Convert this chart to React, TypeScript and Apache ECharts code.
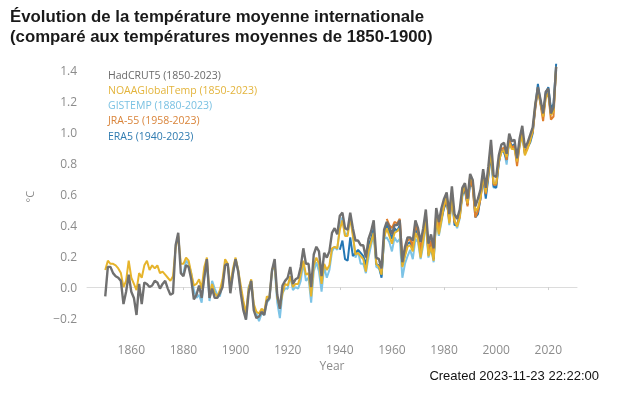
import React, { useEffect, useRef } from "react";
import * as echarts from "echarts";

// Series start years
const HADCRUT5_START = 1850;
const NOAA_START = 1850;
const GISTEMP_START = 1880;
const JRA55_START = 1958;
const ERA5_START = 1940;

// Tick labels
const xTicks = [1860, 1880, 1900, 1920, 1940, 1960, 1980, 2000, 2020];
const yTicks = [-0.2, 0, 0.2, 0.4, 0.6, 0.8, 1.0, 1.2, 1.4];

// Annual anomalies (°C vs 1850-1900)
const hadcrut5 = [
  -0.06, 0.13, 0.13, 0.09, 0.07, 0.06, 0.04, -0.11, -0.03, 0.08,
  -0.03, -0.07, -0.18, 0.02, -0.11, 0.03, 0.02, 0.0, 0.01, 0.04,
  0.03, -0.01, 0.02, 0.04, -0.01, -0.05, -0.04, 0.27, 0.35, 0.09,
  0.07, 0.14, 0.13, 0.05, -0.08, -0.05, 0.01, -0.07, 0.06, 0.18,
  -0.07, -0.01, -0.07, -0.07, -0.04, 0.0, 0.14, 0.15, -0.04, 0.09,
  0.18, 0.1, -0.04, -0.15, -0.21, -0.04, 0.04, -0.15, -0.2, -0.19,
  -0.16, -0.18, -0.09, -0.07, 0.11, 0.18, -0.05, -0.14, 0.01, 0.04,
  0.06, 0.13, 0.02, 0.05, 0.06, 0.13, 0.25, 0.15, 0.15, 0.0,
  0.21, 0.26, 0.23, 0.07, 0.22, 0.19, 0.23, 0.35, 0.38, 0.34,
  0.46, 0.48, 0.38, 0.37, 0.48, 0.38, 0.3, 0.3, 0.27, 0.27,
  0.19, 0.31, 0.36, 0.43, 0.19, 0.18, 0.12, 0.37, 0.42, 0.39,
  0.34, 0.4, 0.4, 0.43, 0.16, 0.26, 0.32, 0.32, 0.3, 0.43,
  0.38, 0.29, 0.38, 0.5, 0.28, 0.34, 0.25, 0.51, 0.42, 0.51,
  0.57, 0.61, 0.47, 0.65, 0.47, 0.44, 0.5, 0.64, 0.67, 0.57,
  0.73, 0.69, 0.52, 0.57, 0.63, 0.76, 0.64, 0.78, 0.95, 0.72,
  0.71, 0.85, 0.92, 0.93, 0.86, 0.99, 0.94, 0.95, 0.83, 0.96,
  1.04, 0.9, 0.93, 0.98, 1.03, 1.18, 1.29, 1.21, 1.12, 1.26,
  1.28, 1.12, 1.16, 1.42,
];

const noaa = [
  0.11, 0.17, 0.15, 0.15, 0.14, 0.12, 0.09, 0.0, 0.04, 0.17,
  0.06, 0.02, -0.02, 0.09, 0.06, 0.14, 0.17, 0.11, 0.14, 0.12,
  0.14, 0.09, 0.1, 0.08, 0.06, 0.04, 0.07, 0.25, 0.33, 0.15,
  0.15, 0.19, 0.17, 0.09, 0.01, 0.02, 0.05, -0.01, 0.13, 0.19,
  -0.05, 0.02, -0.04, -0.06, -0.02, 0.05, 0.18, 0.15, 0.01, 0.12,
  0.19, 0.11, 0.01, -0.09, -0.17, -0.01, 0.05, -0.11, -0.16, -0.17,
  -0.14, -0.16, -0.06, -0.07, 0.11, 0.15, -0.07, -0.13, -0.04, 0.02,
  0.01, 0.07, 0.0, 0.02, 0.02, 0.08, 0.17, 0.08, 0.09, -0.06,
  0.14, 0.19, 0.15, 0.02, 0.15, 0.11, 0.14, 0.25, 0.26, 0.25,
  0.37, 0.43, 0.33, 0.33, 0.45, 0.33, 0.21, 0.22, 0.2, 0.18,
  0.1, 0.23, 0.29, 0.35, 0.15, 0.13, 0.08, 0.32, 0.38, 0.33,
  0.28, 0.35, 0.36, 0.38, 0.13, 0.2, 0.26, 0.27, 0.23, 0.35,
  0.31, 0.19, 0.3, 0.43, 0.2, 0.26, 0.17, 0.45, 0.34, 0.43,
  0.53, 0.59, 0.41, 0.58, 0.43, 0.39, 0.45, 0.6, 0.67, 0.54,
  0.72, 0.68, 0.49, 0.51, 0.58, 0.72, 0.61, 0.74, 0.88, 0.67,
  0.67, 0.81, 0.87, 0.88, 0.84, 0.93, 0.89, 0.89, 0.81, 0.92,
  0.98, 0.85, 0.89, 0.94, 1.01, 1.18, 1.27, 1.19, 1.1, 1.22,
  1.25, 1.11, 1.13, 1.42,
];

const gistemp = [
  0.09, 0.17, 0.15, 0.09, -0.02, -0.07, -0.05, -0.1, 0.08, 0.15,
  -0.09, 0.04, -0.01, -0.05, -0.06, 0.03, 0.15, 0.15, -0.01, 0.08,
  0.18, 0.11, -0.02, -0.11, -0.21, 0.0, 0.04, -0.13, -0.17, -0.22,
  -0.17, -0.18, -0.1, -0.08, 0.11, 0.12, -0.1, -0.2, -0.04, -0.01,
  -0.01, 0.07, -0.02, 0.0, -0.01, 0.04, 0.16, 0.04, 0.06, -0.1,
  0.1, 0.16, 0.1, -0.03, 0.13, 0.06, 0.11, 0.23, 0.26, 0.24,
  0.39, 0.45, 0.33, 0.35, 0.46, 0.35, 0.19, 0.23, 0.15, 0.15,
  0.09, 0.19, 0.27, 0.34, 0.13, 0.12, 0.07, 0.31, 0.32, 0.29,
  0.23, 0.32, 0.29, 0.31, 0.06, 0.15, 0.2, 0.24, 0.18, 0.31,
  0.29, 0.18, 0.27, 0.42, 0.19, 0.25, 0.16, 0.44, 0.33, 0.42,
  0.52, 0.58, 0.4, 0.57, 0.42, 0.38, 0.44, 0.58, 0.65, 0.53,
  0.71, 0.66, 0.48, 0.49, 0.57, 0.71, 0.59, 0.72, 0.87, 0.64,
  0.65, 0.8, 0.89, 0.88, 0.79, 0.94, 0.9, 0.92, 0.8, 0.91,
  0.98, 0.87, 0.91, 0.94, 1.01, 1.16, 1.27, 1.18, 1.11, 1.24,
  1.27, 1.11, 1.15, 1.4,
];

const jra55 = [
  0.44, 0.4,
  0.38, 0.42, 0.41, 0.44, 0.19, 0.24, 0.3, 0.31, 0.26, 0.4,
  0.36, 0.24, 0.34, 0.48, 0.23, 0.3, 0.2, 0.48, 0.38, 0.46,
  0.52, 0.57, 0.42, 0.6, 0.42, 0.4, 0.45, 0.61, 0.64, 0.52,
  0.7, 0.64, 0.45, 0.49, 0.57, 0.72, 0.6, 0.73, 0.92, 0.66,
  0.66, 0.81, 0.89, 0.9, 0.82, 0.95, 0.9, 0.91, 0.78, 0.92,
  1.01, 0.86, 0.9, 0.95, 1.0, 1.15, 1.28, 1.18, 1.07, 1.23,
  1.25, 1.08, 1.1, 1.42,
];

const era5 = [
  0.24, 0.3, 0.18, 0.17, 0.32, 0.2, 0.22, 0.24, 0.22, 0.2,
  0.14, 0.27, 0.31, 0.38, 0.15, 0.14, 0.06, 0.32, 0.4, 0.36,
  0.31, 0.38, 0.36, 0.4, 0.14, 0.21, 0.28, 0.29, 0.24, 0.38,
  0.34, 0.22, 0.33, 0.46, 0.21, 0.27, 0.18, 0.46, 0.37, 0.44,
  0.51, 0.55, 0.44, 0.59, 0.4, 0.4, 0.47, 0.6, 0.62, 0.53,
  0.66, 0.65, 0.45, 0.47, 0.58, 0.71, 0.57, 0.71, 0.86, 0.65,
  0.64, 0.8, 0.88, 0.87, 0.82, 0.95, 0.91, 0.92, 0.82, 0.93,
  1.0, 0.86, 0.9, 0.93, 0.99, 1.16, 1.31, 1.19, 1.1, 1.25,
  1.29, 1.15, 1.18, 1.44,
];

const NAMES = {
  had: "HadCRUT5 (1850-2023)",
  noaa: "NOAAGlobalTemp (1850-2023)",
  gis: "GISTEMP (1880-2023)",
  jra: "JRA-55 (1958-2023)",
  era: "ERA5 (1940-2023)",
};

const COLORS = {
  had: "#707070",
  noaa: "#e6b42c",
  gis: "#7cc3e6",
  jra: "#e07f2c",
  era: "#2477b4",
};

const pairs = (start: number, vals: number[]) => vals.map((v, i) => [start + i, v]);

export default function App() {
  const ref = useRef<HTMLDivElement>(null);
  useEffect(() => {
    const chart = echarts.init(ref.current!, null, { renderer: "svg" });
    const line = (key: keyof typeof NAMES, start: number, vals: number[], width: number) => ({
      type: "line",
      name: NAMES[key],
      data: pairs(start, vals),
      showSymbol: false,
      symbol: "none",
      lineStyle: { color: COLORS[key], width },
      itemStyle: { color: COLORS[key] },
      emphasis: { disabled: true },
    });
    const sans = "'Open Sans', 'Noto Sans', sans-serif";
    chart.setOption({
      animation: false,
      title: {
        text: "Évolution de la température moyenne internationale\n(comparé aux températures moyennes de 1850-1900)",
        left: 10,
        top: 6,
        padding: 0,
        textStyle: {
          fontFamily: "'Liberation Sans', Arial, sans-serif",
          fontSize: 16.8,
          fontWeight: "bold",
          color: "#1a1a1a",
          lineHeight: 20,
        },
      },
      legend: {
        orient: "vertical",
        left: 103,
        top: 69,
        padding: 0,
        icon: "none",
        itemWidth: 0,
        itemHeight: 11,
        itemGap: 4.3,
        selectedMode: false,
        textStyle: { fontFamily: sans, fontSize: 10.5 },
        data: [
          { name: NAMES.had, textStyle: { color: "#6a6a6a" } },
          { name: NAMES.noaa, textStyle: { color: "#e3b43c" } },
          { name: NAMES.gis, textStyle: { color: "#7ac1e2" } },
          { name: NAMES.jra, textStyle: { color: "#d9843a" } },
          { name: NAMES.era, textStyle: { color: "#2f7bb0" } },
        ],
      },
      grid: { left: 87, right: 58, top: 54.5, bottom: 58 },
      xAxis: {
        type: "value",
        min: 1843,
        max: 2031,
        name: "Year",
        nameLocation: "middle",
        nameGap: 15,
        nameTextStyle: { fontFamily: sans, fontSize: 12, color: "#8a8a8a" },
        axisLine: { show: true, lineStyle: { color: "#dcdcdc", width: 1 } },
        axisTick: { show: true, length: 3, lineStyle: { color: "#cfcfcf" }, customValues: xTicks },
        axisLabel: {
          customValues: xTicks,
          margin: 4,
          fontFamily: sans,
          fontSize: 12,
          color: "#8c8c8c",
          formatter: (v: number) => String(v),
        },
        splitLine: { show: false },
      },
      yAxis: {
        type: "value",
        min: -0.335,
        max: 1.5,
        name: "°C",
        nameLocation: "middle",
        nameGap: 52,
        nameRotate: 90,
        nameTextStyle: { fontFamily: sans, fontSize: 11, color: "#8a8a8a" },
        axisLine: { show: false },
        axisTick: { show: false },
        splitLine: { show: false },
        axisLabel: {
          customValues: yTicks,
          margin: 10,
          fontFamily: sans,
          fontSize: 12,
          color: "#8c8c8c",
          formatter: (v: number) => (v < 0 ? "\u2212" + Math.abs(v).toFixed(1) : v.toFixed(1)),
        },
      },
      graphic: [
        {
          type: "text",
          right: 36,
          top: 369,
          style: {
            text: "Created 2023-11-23 22:22:00",
            font: "13px 'Liberation Sans', Arial, sans-serif",
            fill: "#111111",
          },
        },
      ],
      series: [
        line("gis", GISTEMP_START, gistemp, 2),
        line("era", ERA5_START, era5, 2),
        line("jra", JRA55_START, jra55, 2),
        line("noaa", NOAA_START, noaa, 2),
        line("had", HADCRUT5_START, hadcrut5, 2.4),
      ],
    });
    return () => chart.dispose();
  }, []);
  return <div ref={ref} style={{ position: "fixed", left: 0, top: 0, width: 635, height: 397 }} />;
}
